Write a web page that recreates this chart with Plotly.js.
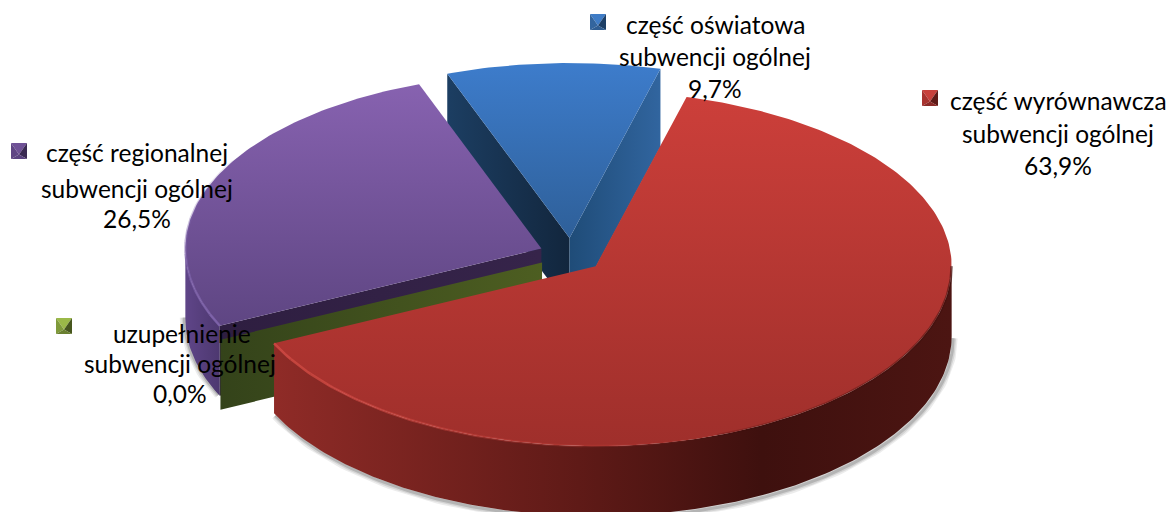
<!DOCTYPE html>
<html>
<head>
<meta charset="utf-8">
<script src="https://cdn.plot.ly/plotly-3.0.1.min.js"></script>
<style>html,body{margin:0;padding:0;background:#fff;overflow:hidden}#chart{width:1168px;height:512px}</style>
</head>
<body>
<div id="chart"></div>
<script>
// Data, in pie order (clockwise from the first slice)
var categories = ['część wyrównawcza', 'uzupełnienie', 'część regionalnej', 'część oświatowa'];
var categorySuffix = 'subwencji ogólnej';
var values = [63.9, 0.0, 26.5, 9.7];

// Pie styling and label placement
var keys = ['red', 'green', 'purple', 'blue'];
var topStops = {
  red: ['#cc3f3a', '#9f2f2b'], green: ['#4b5c20', '#4b5c20'],
  purple: ['#8762b0', '#5c4480'], blue: ['#3d7ccb', '#2e5f98']
};
var topRange = {red: [96, 446], green: [262, 339], purple: [84, 340], blue: [65, 240]};
var rimStops = {
  red: [[0, '#8f2b27'], [0.45, '#5f1a17'], [0.72, '#3e100e'], [1, '#4c1512']],
  purple: [[0, '#5f4588'], [1, '#4d3870']]
};
var keyShades = {
  red: ['#c8413c', '#a8332f', '#5e1a17', '#8c2a27'],
  green: ['#9bb948', '#7f9a3a', '#47561e', '#6a8030'],
  purple: ['#6f5196', '#5f4584', '#3a2a52', '#5a4280'],
  blue: ['#3f7cc6', '#33659e', '#1d3f66', '#2f5d92']
};
var labelX = {red: 1058, green: 180, purple: 136.5, blue: 715};
var labelLine1X = {red: 1058, green: 181.5, purple: 137, blue: 715};
var labelY = {red: [100, 133, 165], green: [333, 363, 393], purple: [152, 188, 218], blue: [24, 56, 88]};
var keyPos = {red: [922, 90], green: [56, 318], purple: [11, 143], blue: [590, 14]};
var geom = {cx: 571, cy: 255, rx: 356, ryBack: 175, ryFront: 180, depth: 70, pullX: 0.09, pullY: 0.097, startDeg: 14.8};

var traces = [];
var total = values.reduce(function (a, b) { return a + b; }, 0);
var slices = {};
var acc = geom.startDeg;
values.forEach(function (v, i) {
  var sweep = v / total * 360, mid = acc + sweep / 2, r = mid * Math.PI / 180;
  var ry = Math.cos(r) > 0 ? geom.ryBack : geom.ryFront;
  slices[keys[i]] = {
    a0: acc, a1: acc + sweep,
    x: geom.cx + geom.rx * Math.sin(r) * geom.pullX,
    y: geom.cy - ry * Math.cos(r) * geom.pullY
  };
  acc += sweep;
});
function pt(s, deg, dz) {
  var r = deg * Math.PI / 180, c = Math.cos(r);
  return [s.x + geom.rx * Math.sin(r), s.y - (c > 0 ? geom.ryBack : geom.ryFront) * c + (dz || 0)];
}
function arc(s, a0, a1, dz) {
  var out = [], n = Math.max(2, Math.ceil(Math.abs(a1 - a0)));
  for (var i = 0; i <= n; i++) out.push(pt(s, a0 + (a1 - a0) * i / n, dz));
  return out;
}
function poly(points, gradient, solid) {
  var t = {
    type: 'scatter', mode: 'lines', line: {width: 0}, fill: 'toself', hoverinfo: 'skip',
    x: points.map(function (p) { return p[0]; }).concat([points[0][0]]),
    y: points.map(function (p) { return p[1]; }).concat([points[0][1]])
  };
  if (gradient) t.fillgradient = gradient; else t.fillcolor = solid;
  traces.push(t);
}
function stroke(points, color, width) {
  traces.push({
    type: 'scatter', mode: 'lines', hoverinfo: 'skip', line: {color: color, width: width, shape: 'linear'},
    x: points.map(function (p) { return p[0]; }), y: points.map(function (p) { return p[1]; })
  });
}
function topFace(k) {
  var s = slices[k], pts = [[s.x, s.y]].concat(arc(s, s.a0, s.a1));
  poly(pts, {type: 'vertical', start: topRange[k][0], stop: topRange[k][1],
    colorscale: [[0, topStops[k][0]], [1, topStops[k][1]]]});
}
function rim(k) {
  var s = slices[k];
  var a0 = Math.max(s.a0, 90), a1 = Math.min(s.a1, 270);
  var pts = arc(s, a0, a1).concat(arc(s, a1, a0, geom.depth));
  var xs = pts.map(function (p) { return p[0]; });
  poly(pts, {type: 'horizontal', start: Math.min.apply(null, xs), stop: Math.max.apply(null, xs),
    colorscale: rimStops[k]});
}
function cutFace(k, deg, c0, c1, extra) {
  var s = slices[k], e = pt(s, deg), d = geom.depth + (extra || 0);
  var pts = [[s.x, s.y], e, [e[0], e[1] + d], [s.x, s.y + d]];
  poly(pts, {type: 'horizontal', start: Math.min(s.x, e[0]), stop: Math.max(s.x, e[0]),
    colorscale: [[0, c0], [1, c1]]});
}
function fadeArc(k, a0, a1, rgb, alpha0, alpha1, width) {
  var s = slices[k], n = 14;
  for (var i = 0; i < n; i++) {
    var a = alpha0 + (alpha1 - alpha0) * (i + 0.5) / n;
    stroke(arc(s, a0 + (a1 - a0) * i / n, a0 + (a1 - a0) * (i + 1) / n), 'rgba(' + rgb + ',' + a.toFixed(3) + ')', width);
  }
}

// Soft shadows under the front rim
[[9, 0.10], [6, 0.14], [3, 0.22]].forEach(function (sh) {
  var r = slices.red, p = slices.purple;
  stroke(arc(r, 90, r.a1, geom.depth + 1).map(function (q) { return [q[0] + 1.5, q[1] + 1]; }), 'rgba(70,70,70,' + sh[1] + ')', sh[0]);
  stroke(arc(p, p.a0, 270, geom.depth - 2).map(function (q) { return [q[0] - 1, q[1] + 1]; }), 'rgba(70,70,70,' + sh[1] + ')', sh[0]);
});

// Painter's order: blue, purple, green, red
cutFace('blue', slices.blue.a0, '#1c3e62', '#12263d');
cutFace('blue', slices.blue.a1 - 360, '#1f4c78', '#31659f', 8);
topFace('blue');

rim('purple');
cutFace('purple', slices.purple.a0, '#2e1e40', '#36244a');
topFace('purple');
fadeArc('purple', slices.purple.a0, 300, '128,100,172', 0.9, 0.1, 2.5);

cutFace('green', slices.green.a0, '#34431a', '#4d5e21');

rim('red');
topFace('red');
fadeArc('red', slices.red.a1, 165, '205,72,66', 0.95, 0.05, 2.5);
fadeArc('red', 90, 160, '62,16,13', 0.6, 0.2, 2.5);

// Legend keys: small bevelled squares
keys.forEach(function (k) {
  var p = keyPos[k], x = p[0], y = p[1], w = 16, m = [x + w / 2, y + w * 0.72], c = keyShades[k];
  poly([[x, y], [x + w, y], m], null, c[0]);
  poly([[x, y], m, [x, y + w]], null, c[1]);
  poly([[x + w, y], [x + w, y + w], m], null, c[2]);
  poly([[x, y + w], [x + w, y + w], m], null, c[3]);
});

// Labels
var annotations = [];
keys.forEach(function (k, i) {
  var pct = values[i].toFixed(1).replace('.', ',') + '%';
  var lines = [categories[i], categorySuffix, pct];
  var xs = [labelLine1X[k], labelX[k], labelX[k]];
  lines.forEach(function (text, j) {
    annotations.push({
      x: xs[j], y: labelY[k][j],
      xref: 'x', yref: 'y', text: text, showarrow: false, xanchor: 'center', yanchor: 'middle',
      font: {family: 'Lato, Carlito, sans-serif', size: 24.5, color: '#000'}
    });
  });
});

Plotly.newPlot('chart', traces, {
  width: 1168, height: 512, margin: {l: 0, r: 0, t: 0, b: 0},
  paper_bgcolor: '#fff', plot_bgcolor: '#fff', showlegend: false,
  xaxis: {range: [0, 1168], visible: false, fixedrange: true},
  yaxis: {range: [512, 0], visible: false, fixedrange: true},
  annotations: annotations
}, {staticPlot: true, displayModeBar: false});
</script>
</body>
</html>
